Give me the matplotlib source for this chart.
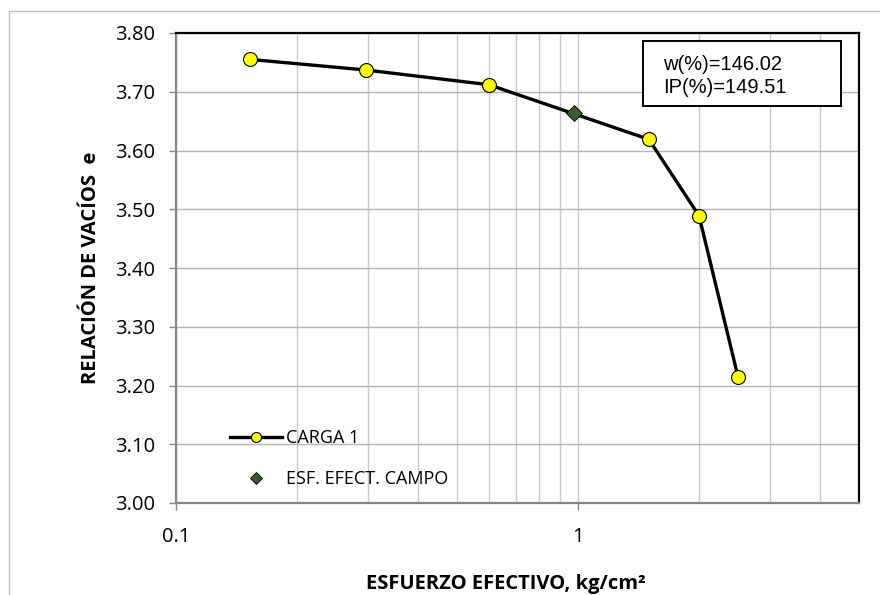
import matplotlib
matplotlib.use("Agg")
import matplotlib.pyplot as plt
from matplotlib.lines import Line2D
from matplotlib.patches import Rectangle
from matplotlib.ticker import FixedLocator, FixedFormatter, NullFormatter

# consolidation curve (load 1)
esfuerzo = [0.153, 0.297, 0.600, 1.50, 2.00, 2.50]
relacion_vacios = [3.755, 3.737, 3.712, 3.619, 3.489, 3.215]

# effective stress in the field
esf_campo = [0.979]
e_campo = [3.664]

w_pct = 146.02
ip_pct = 149.51

y_ticks = [3.00, 3.10, 3.20, 3.30, 3.40, 3.50, 3.60, 3.70, 3.80]
x_major = [0.1, 1]
x_major_labels = ["0.1", "1"]
x_minor = [0.2, 0.3, 0.4, 0.5, 0.6, 0.7, 0.8, 0.9, 2, 3, 4]

W, H = 880, 595
fig = plt.figure(figsize=(W / 100, H / 100), dpi=100)
ax = fig.add_axes([176 / W, 1 - 503 / H, (859 - 176) / W, (503 - 33) / H])

# outer chart frame
fig.add_artist(Rectangle((8.5 / W, -0.1), 1.2, 1 - 10.5 / H + 0.1,
                         transform=fig.transFigure, fill=False,
                         edgecolor="#bdbdbd", linewidth=1.0))

ax.set_xscale("log")
ax.set_xlim(0.1, 5)
ax.set_ylim(3.0, 3.8)

ax.xaxis.set_major_locator(FixedLocator(x_major))
ax.xaxis.set_major_formatter(FixedFormatter(x_major_labels))
ax.xaxis.set_minor_locator(FixedLocator(x_minor))
ax.xaxis.set_minor_formatter(NullFormatter())
ax.yaxis.set_major_locator(FixedLocator(y_ticks))
ax.yaxis.set_major_formatter(FixedFormatter([f"{v:.2f}" for v in y_ticks]))

ax.grid(True, which="major", axis="y", color="#b4b4b4", linewidth=1.0)
ax.grid(True, which="both", axis="x", color="#c8c8c8", linewidth=1.0)
ax.set_axisbelow(True)

ax.tick_params(axis="y", which="major", direction="out", length=5,
               color="#868686", width=1.0, pad=10, labelsize=14.5)
ax.tick_params(axis="x", which="major", direction="out", length=5,
               color="#868686", width=1.0, pad=12, labelsize=14.5)
ax.tick_params(axis="x", which="minor", length=0)
for lbl in ax.get_xticklabels() + ax.get_yticklabels():
    lbl.set_fontfamily("Open Sans")

for side in ("left", "bottom"):
    ax.spines[side].set_color("#868686")
    ax.spines[side].set_linewidth(1.6)
for side in ("top", "right"):
    ax.spines[side].set_color("black")
    ax.spines[side].set_linewidth(1.6)

ax.plot(esfuerzo, relacion_vacios, color="black", linewidth=2.4,
        marker="o", markersize=10, markerfacecolor="#ffff00",
        markeredgecolor="black", markeredgewidth=0.8, zorder=3)
ax.plot(esf_campo, e_campo, linestyle="none", marker="D", markersize=8.5,
        markerfacecolor="#3a5a26", markeredgecolor="black",
        markeredgewidth=0.6, zorder=4)

handles = [
    Line2D([], [], color="black", linewidth=2.4, marker="o", markersize=10,
           markerfacecolor="#ffff00", markeredgecolor="black",
           markeredgewidth=0.8),
    Line2D([], [], linestyle="none", marker="D", markersize=8.5,
           markerfacecolor="#3a5a26", markeredgecolor="black",
           markeredgewidth=0.6),
]
ax.legend(handles, ["CARGA 1", "ESF. EFECT. CAMPO"], loc="upper left",
          bbox_to_anchor=((230 - 176) / (859 - 176), (503 - 429) / (503 - 33)),
          frameon=False, borderpad=0, borderaxespad=0, handlelength=2.9,
          handletextpad=0.2, labelspacing=1.28, markerscale=0.72,
          prop=dict(family="Open Sans", size=13))

# moisture content / plasticity index box
fig.add_artist(Rectangle((643 / W, 1 - 106 / H), (841 - 643) / W, (106 - 41) / H,
                         transform=fig.transFigure, facecolor="white",
                         edgecolor="black", linewidth=1.4, zorder=5))
fig.text(663 / W, 1 - 70 / H, f"w(%)={w_pct:.2f}", family="Liberation Sans",
         size=14.5, va="baseline", ha="left", zorder=6)
fig.text(663 / W, 1 - 93 / H, f"IP(%)={ip_pct:.2f}", family="Liberation Sans",
         size=14.5, va="baseline", ha="left", zorder=6)

fig.text(506 / W, 1 - 589 / H, "ESFUERZO EFECTIVO, kg/cm²", family="Open Sans",
         weight="bold", size=14.5, ha="center", va="baseline")
fig.text(91 / W, 1 - 268 / H, "RELACIÓN DE VACÍOS  e", family="Open Sans",
         weight="bold", size=14.5, ha="center", va="center", rotation=90)

fig.savefig("out.png", dpi=100)
